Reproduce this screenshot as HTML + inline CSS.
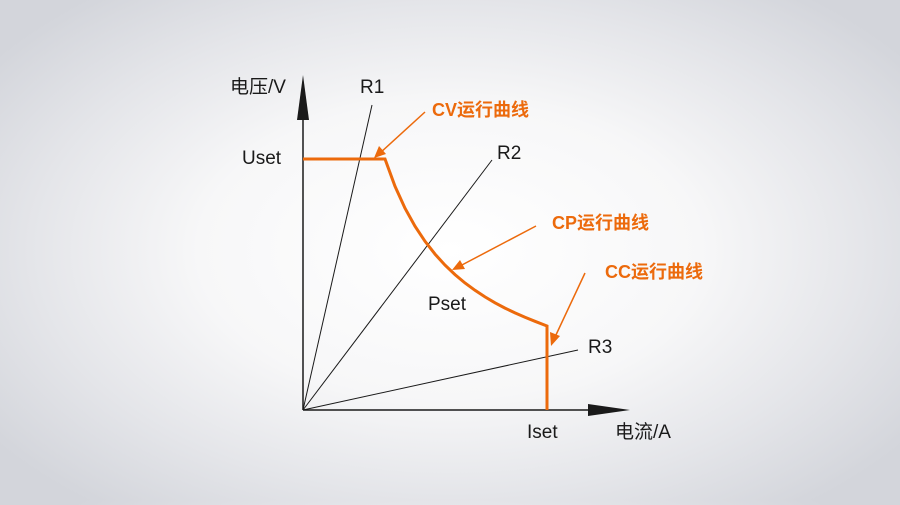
<!DOCTYPE html>
<html><head><meta charset="utf-8"><style>
html,body{margin:0;padding:0}
body{width:900px;height:500px;overflow:hidden;background:radial-gradient(ellipse 560px 330px at 450px 250px,#ffffff 0%,#f7f7f8 45%,#e4e5e9 75%,#d3d5db 100%)}
text{font-family:"Liberation Sans","Noto Sans CJK SC",sans-serif;font-size:19px}
.o text{font-weight:bold;font-size:18px}
</style></head><body>
<svg width="900" height="500" viewBox="0 0 900 500" xmlns="http://www.w3.org/2000/svg">
<g stroke="#1a1a1a" fill="none">
<line x1="303" y1="410" x2="303" y2="110" stroke-width="1.5"/>
<line x1="303" y1="410" x2="600" y2="410" stroke-width="1.5"/>
<line x1="303" y1="410" x2="372" y2="105" stroke-width="1"/>
<line x1="303" y1="410" x2="492" y2="160" stroke-width="1"/>
<line x1="303" y1="410" x2="578" y2="350" stroke-width="1"/>
</g>
<path d="M303,75 L297,120 L309,120 Z" fill="#1a1a1a"/>
<path d="M630,410 L588,404 L588,416 Z" fill="#1a1a1a"/>
<polyline fill="none" stroke="#ec6a0c" stroke-width="3" stroke-linejoin="miter" points="303,159 385,159 395,186.3 405,208.2 415,226.2 425,241.3 435,254.1 445,265.1 455,274.6 465,283 475,290.3 485,296.9 495,302.8 505,308.1 515,312.9 525,317.3 535,321.3 547,326 547,410"/>
<g stroke="#ec6a0c" stroke-width="1.5">
<line x1="425" y1="112" x2="380" y2="153"/>
<line x1="536" y1="226" x2="460" y2="266"/>
<line x1="585" y1="273" x2="555" y2="337"/>
</g>
<g fill="#ec6a0c">
<path d="M374,158 L379,146 L386,154 Z"/>
<path d="M452,270 L460,260 L465,269 Z"/>
<path d="M551,346 L550,332 L560,336 Z"/>
</g>
<g fill="#1a1a1a">
<text x="230" y="93">电压/V</text>
<text x="360" y="93">R1</text>
<text x="242" y="164">Uset</text>
<text x="497" y="159">R2</text>
<text x="428" y="310">Pset</text>
<text x="588" y="353">R3</text>
<text x="527" y="438">Iset</text>
<text x="615" y="438">电流/A</text>
</g>
<g fill="#ec6a0c" class="o">
<text x="432" y="116">CV运行曲线</text>
<text x="552" y="229">CP运行曲线</text>
<text x="605" y="278">CC运行曲线</text>
</g>
</svg>
</body></html>
